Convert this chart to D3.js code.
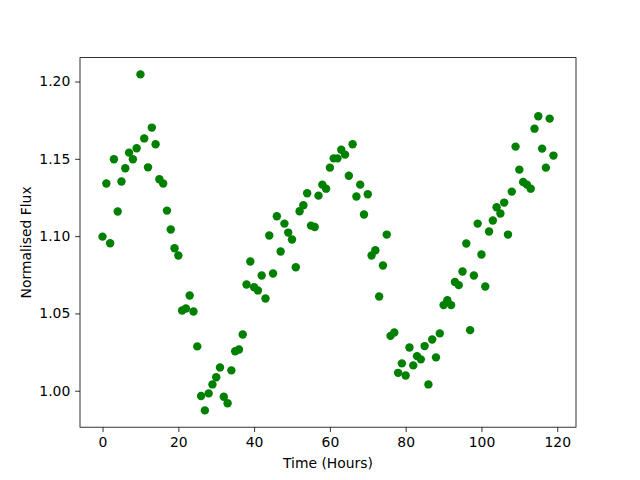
<!DOCTYPE html>
<html>
<head>
<meta charset="utf-8">
<script src="https://cdn.jsdelivr.net/npm/d3@7"></script>
<style>
  body { margin: 0; background: #fff; }
  text { font-family: "DejaVu Sans", sans-serif; }
</style>
</head>
<body>
<svg id="chart" width="640" height="480"></svg>
<script>
const hours = d3.range(0, 120);
const flux = [
  1.0997, 1.1340, 1.0954, 1.1497, 1.1159, 1.1353, 1.1439, 1.1540, 1.1497, 1.1568,
  1.2046, 1.1632, 1.1445, 1.1702, 1.1594, 1.1368, 1.1340, 1.1165, 1.1043, 1.0922,
  1.0875, 1.0519, 1.0532, 1.0616, 1.0513, 1.0287, 0.9966, 0.9873, 0.9983, 1.0041,
  1.0087, 1.0151, 0.9961, 0.9919, 1.0132, 1.0256, 1.0267, 1.0364, 1.0687, 1.0836,
  1.0670, 1.0649, 1.0745, 1.0597, 1.1004, 1.0758, 1.1129, 1.0901, 1.1081, 1.1023,
  1.0978, 1.0799, 1.1161, 1.1200, 1.1277, 1.1068, 1.1059, 1.1262, 1.1333, 1.1307,
  1.1443, 1.1503, 1.1503, 1.1559, 1.1527, 1.1391, 1.1594, 1.1256, 1.1333, 1.1140,
  1.1271, 1.0875, 1.0909, 1.0610, 1.0810, 1.1010, 1.0355, 1.0377, 1.0116, 1.0177,
  1.0099, 1.0280, 1.0164, 1.0224, 1.0203, 1.0289, 1.0041, 1.0332, 1.0216, 1.0371,
  1.0554, 1.0586, 1.0554, 1.0704, 1.0683, 1.0771, 1.0952, 1.0392, 1.0745, 1.1081,
  1.0881, 1.0674, 1.1030, 1.1101, 1.1187, 1.1146, 1.1217, 1.1010, 1.1288, 1.1579,
  1.1430, 1.1350, 1.1333, 1.1307, 1.1695, 1.1775, 1.1566, 1.1443, 1.1760, 1.1521
];
const xTicks = [0, 20, 40, 60, 80, 100, 120];
const yTicks = [1.00, 1.05, 1.10, 1.15, 1.20];
const xLabel = "Time (Hours)";
const yLabel = "Normalised Flux";

const svg = d3.select("#chart");
const L = 80, R = 576, T = 57.6, B = 427.2;

const xMin = d3.min(hours), xMax = d3.max(hours);
const xPad = (xMax - xMin) * 0.05;
const yMin = d3.min(flux), yMax = d3.max(flux);
const yPad = (yMax - yMin) * 0.05;

const x = d3.scaleLinear().domain([xMin - xPad, xMax + xPad]).range([L, R]);
const y = d3.scaleLinear().domain([yMin - yPad, yMax + yPad]).range([B, T]);

const fs = 13.9;
const tl = 4.86;

const gx = svg.append("g").attr("transform", `translate(0,${B})`)
  .call(d3.axisBottom(x).tickValues(xTicks).tickFormat(d3.format("d")).tickSize(tl).tickPadding(4.86).tickSizeOuter(0));
const gy = svg.append("g").attr("transform", `translate(${L},0)`)
  .call(d3.axisLeft(y).tickValues(yTicks).tickFormat(d3.format(".2f")).tickSize(tl).tickPadding(4.86).tickSizeOuter(0));
[gx, gy].forEach(g => {
  g.select(".domain").remove();
  g.selectAll("line").attr("stroke", "#000").attr("stroke-width", 0.8);
  g.selectAll("text").attr("font-family", "DejaVu Sans").attr("font-size", fs).attr("fill", "#000");
});

svg.append("g").selectAll("circle").data(hours).enter().append("circle")
  .attr("cx", (d) => x(d))
  .attr("cy", (d, i) => y(flux[i]))
  .attr("r", 4.2)
  .attr("fill", "#008000");

svg.append("rect").attr("x", L).attr("y", T).attr("width", R - L).attr("height", B - T)
  .attr("fill", "none").attr("stroke", "#000").attr("stroke-width", 0.8);

svg.append("text").attr("x", (L + R) / 2).attr("y", 468)
  .attr("text-anchor", "middle").attr("font-size", fs).text(xLabel);
svg.append("text").attr("transform", `translate(31,${(T + B) / 2}) rotate(-90)`)
  .attr("text-anchor", "middle").attr("font-size", fs).text(yLabel);
</script>
</body>
</html>
